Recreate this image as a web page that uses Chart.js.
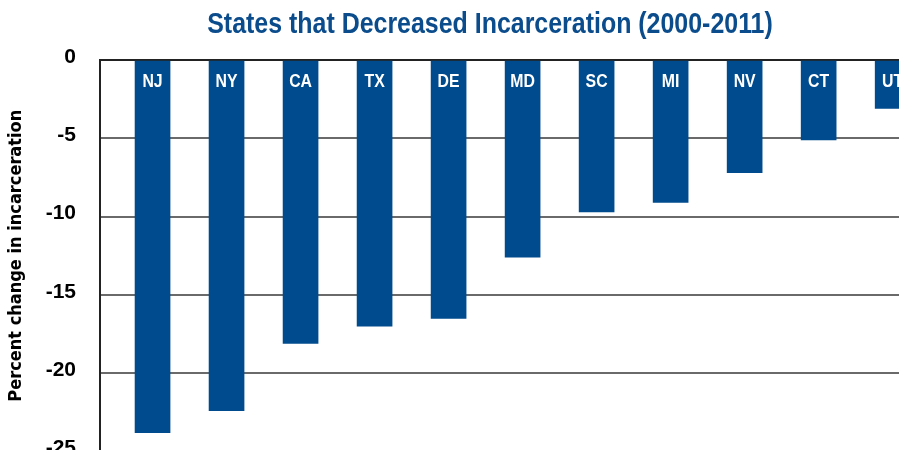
<!DOCTYPE html>
<html>
<head>
<meta charset="utf-8">
<script src="https://cdn.jsdelivr.net/npm/chart.js@4.4.1/dist/chart.umd.min.js"></script>
<style>
  html, body { margin: 0; padding: 0; background: #fff; overflow: hidden; }
  #wrap { width: 899px; height: 450px; overflow: hidden; position: relative; }
  canvas { display: block; }
</style>
</head>
<body>
<div id="wrap">
  <canvas id="incChart" width="980" height="464"></canvas>
</div>
<script>
// data
const states = ['NJ', 'NY', 'CA', 'TX', 'DE', 'MD', 'SC', 'MI', 'NV', 'CT', 'UT'];
const pctChange = [-23.8, -22.4, -18.1, -17.0, -16.5, -12.6, -9.7, -9.1, -7.2, -5.1, -3.1];
const yTicks = [0, -5, -10, -15, -20, -25];
const chartTitle = 'States that Decreased Incarceration (2000-2011)';

const BLUE = '#004b8d';
const SANS = '"Liberation Sans", Arial, sans-serif';
const COND = '"DejaVu Sans Condensed", "Liberation Sans Narrow", sans-serif';

// title in a squeezed bold face, centred like the original
const condensedTitle = {
    id: 'condensedTitle',
    afterDraw(chart) {
        const { ctx } = chart;
        ctx.save();
        ctx.font = 'bold 29px ' + SANS;
        ctx.fillStyle = '#0b4c8c';
        ctx.textAlign = 'center';
        ctx.textBaseline = 'middle';
        ctx.translate(490, 25);
        ctx.scale(0.86, 1);
        ctx.fillText(chartTitle, 0, 0);
        ctx.restore();
    }
};

// white state names at the top of each bar
const barLabels = {
    id: 'barLabels',
    afterDatasetsDraw(chart) {
        const { ctx, chartArea } = chart;
        const meta = chart.getDatasetMeta(0);
        ctx.save();
        ctx.beginPath();
        ctx.rect(chartArea.left, chartArea.top, chartArea.right - chartArea.left, chartArea.bottom - chartArea.top);
        ctx.clip();
        ctx.fillStyle = '#fff';
        ctx.font = 'bold 18px ' + SANS;
        ctx.textAlign = 'center';
        ctx.textBaseline = 'middle';
        meta.data.forEach((bar, i) => {
            ctx.save();
            ctx.translate(bar.x, chartArea.top + 22);
            ctx.scale(0.88, 1);
            ctx.fillText(states[i], 0, 0);
            ctx.restore();
        });
        ctx.restore();
    }
};

new Chart(document.getElementById('incChart'), {
    type: 'bar',
    data: {
        datasets: [{
            data: pctChange.map((v, i) => ({ x: i, y: v })),
            backgroundColor: BLUE,
            borderWidth: 0,
            barThickness: 35
        }]
    },
    options: {
        responsive: false,
        animation: false,
        layout: { padding: { top: 60, left: 0, right: 0, bottom: 0 } },
        plugins: {
            legend: { display: false },
            tooltip: { enabled: false },
            title: { display: false }
        },
        scales: {
            x: {
                type: 'linear',
                display: false,
                offset: false,
                min: -0.71,
                max: 11.18
            },
            y: {
                min: -25,
                max: 0,
                afterFit(scale) { scale.width = 100; },
                afterBuildTicks(scale) { scale.ticks = yTicks.map(v => ({ value: v })); },
                border: { display: true, color: '#222', width: 2 },
                grid: {
                    drawTicks: true,
                    tickLength: 24,
                    tickColor: 'rgba(0,0,0,0)',
                    lineWidth: 2,
                    color: ctx => ctx.tick && ctx.tick.value === 0 ? '#222' : '#6a6a6a'
                },
                ticks: {
                    padding: 0,
                    labelOffset: -3,
                    color: '#000',
                    font: { family: SANS, size: 21, weight: 'bold' }
                },
                title: {
                    display: true,
                    text: 'Percent change in incarceration',
                    color: '#000',
                    font: { family: COND, size: 18, weight: 'bold' },
                    padding: { top: 6, bottom: 0 }
                }
            }
        }
    },
    plugins: [barLabels, condensedTitle]
});
</script>
</body>
</html>
